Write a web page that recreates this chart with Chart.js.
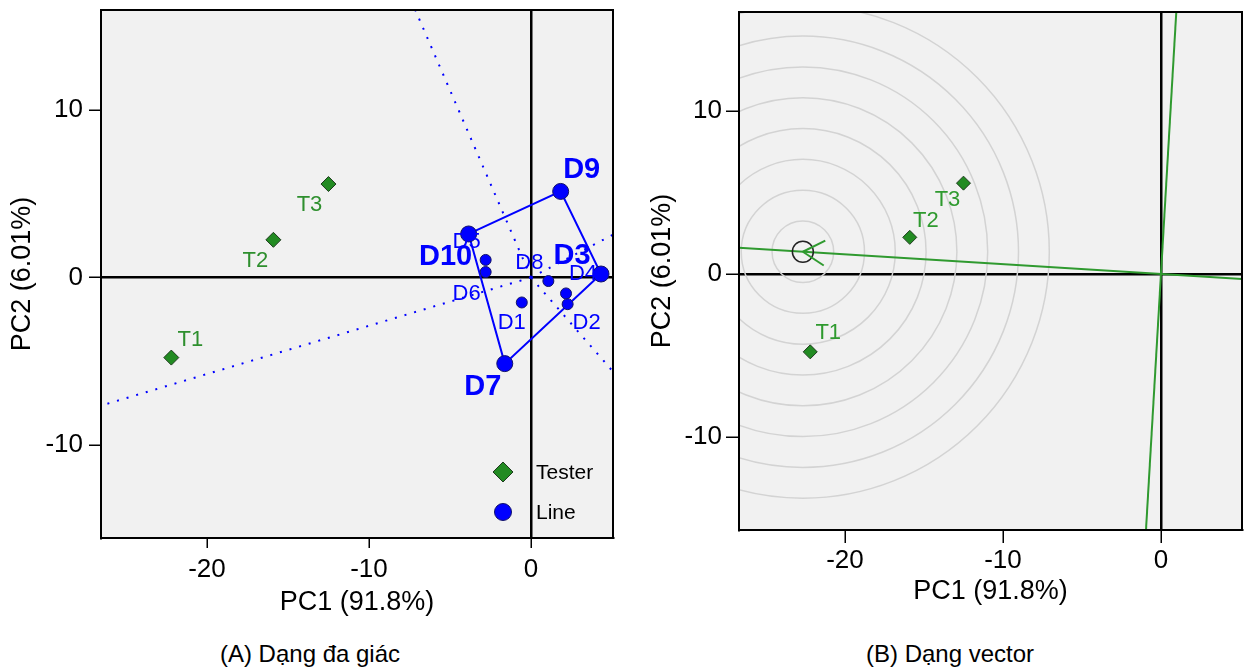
<!DOCTYPE html>
<html>
<head>
<meta charset="utf-8">
<script src="https://cdn.jsdelivr.net/npm/chart.js@4.4.0/dist/chart.umd.min.js"></script>
<style>
body { margin: 0; background: #fff; width: 1247px; height: 670px; overflow: hidden; font-family: "Liberation Sans", Arial, sans-serif; position: relative; }
#cA { position: absolute; left: 0; top: 0; }
#cB { position: absolute; left: 625px; top: 0; }
.cap { position: absolute; top: 640px; width: 400px; text-align: center; font-size: 24px; color: #000; }
</style>
</head>
<body>
<canvas id="cA" width="625" height="625"></canvas>
<canvas id="cB" width="629" height="625"></canvas>
<div class="cap" style="left:110px">(A) Dạng đa giác</div>
<div class="cap" style="left:750px">(B) Dạng vector</div>
<script>
// testers (environments) and lines
var testerNames = ['T1', 'T2', 'T3'];
var testerPC1 = [-22.2, -15.9, -12.5];
var testerPC2 = [-4.78, 2.25, 5.58];

var lineNames = ['D1', 'D2', 'D3', 'D4', 'D5', 'D6', 'D7', 'D8', 'D9', 'D10'];
var linePC1 = [-0.57, 2.26, 4.32, 2.16, -2.8, -2.8, -1.62, 1.07, 1.83, -3.85];
var linePC2 = [-1.49, -1.59, 0.21, -0.95, 1.05, 0.33, -5.14, -0.21, 5.14, 2.6];

// vertices of the polygon (which-won-where)
var hullOrder = ['D10', 'D9', 'D3', 'D7'];

var xTicks = [-20, -10, 0];
var yTicks = [-10, 0, 10];

// concentric rings around the ideal tester (PC units)
var ringRadii = [1.95, 3.9, 5.85, 7.8, 9.75, 11.7, 13.65, 15.6];

var blue = '#0000ff';
var green = '#228b22';
var greenTxt = '#2e8f2e';
var greenLine = '#2f9a2f';
var FONT = '"Liberation Sans", Arial, sans-serif';

Chart.defaults.font.family = FONT;
Chart.defaults.color = '#000';

// label offsets in px (centre of text relative to the point)
var lblA = {
  T1: [19, -18], T2: [-18, 21], T3: [-19, 21],
  D1: [-10, 20], D2: [19, 19], D3: [-29, -18], D4: [17, -19], D5: [-19, -18],
  D6: [-19, 22], D7: [-22, 23], D8: [-19, -18], D9: [21, -21], D10: [-23, 23]
};
var lblB = { T1: [18, -19], T2: [16, -16], T3: [-16, 17] };

function axis(min, max, ticksArr, title, titlePad, fitSize, isX, tickLen, tickPad) {
  return {
    type: 'linear', min: min, max: max,
    afterBuildTicks: function (s) { s.ticks = ticksArr.map(function (v) { return { value: v }; }); },
    afterFit: function (s) {
      if (isX) { s.height = fitSize; s.paddingLeft = 0; s.paddingRight = 0; }
      else { s.width = fitSize; s.paddingTop = 0; s.paddingBottom = 0; }
    },
    grid: {
      color: function (c) { return c.tick && c.tick.value === 0 ? '#000' : 'rgba(0,0,0,0)'; },
      lineWidth: 2.5, tickColor: '#000', tickWidth: 1.5, tickLength: tickLen
    },
    border: { display: true, color: '#000', width: 2 },
    ticks: { font: { size: 26 }, color: '#000', padding: tickPad },
    title: { display: true, text: title, font: { size: 27 }, color: '#000', padding: { top: titlePad, bottom: titlePad } }
  };
}

var framePlugin = {
  id: 'frame',
  beforeDraw: function (chart) {
    var a = chart.chartArea, ctx = chart.ctx;
    ctx.save();
    ctx.fillStyle = '#f1f1f1';
    ctx.fillRect(a.left, a.top, a.right - a.left, a.bottom - a.top);
    ctx.restore();
  },
  afterDraw: function (chart) {
    var a = chart.chartArea, ctx = chart.ctx;
    ctx.save();
    ctx.strokeStyle = '#000';
    ctx.lineWidth = 2;
    ctx.strokeRect(a.left, a.top, a.right - a.left, a.bottom - a.top);
    ctx.restore();
  }
};

function labelPlugin(items) {
  return {
    id: 'ptLabels',
    afterDatasetsDraw: function (chart) {
      var ctx = chart.ctx, xs = chart.scales.x, ys = chart.scales.y;
      items.forEach(function (it) {
        ctx.save();
        ctx.font = it.font;
        ctx.fillStyle = it.color;
        ctx.textAlign = 'center';
        ctx.textBaseline = 'middle';
        ctx.fillText(it.text, xs.getPixelForValue(it.x) + it.dx, ys.getPixelForValue(it.y) + it.dy);
        ctx.restore();
      });
    }
  };
}

function pts(xs, ys) { return xs.map(function (v, i) { return { x: v, y: ys[i] }; }); }

// ---------- (A) polygon view ----------
var linePts = pts(linePC1, linePC2);
var testerPts = pts(testerPC1, testerPC2);
var hullPts = hullOrder.map(function (n) { return linePts[lineNames.indexOf(n)]; });
var hullLoop = hullPts.concat([hullPts[0]]);

// rays from origin perpendicular to each polygon side
var rayData = [];
for (var i = 0; i < hullPts.length; i++) {
  var A = hullPts[i], B = hullPts[(i + 1) % hullPts.length];
  var dx = B.x - A.x, dy = B.y - A.y;
  var t = -(A.x * dx + A.y * dy) / (dx * dx + dy * dy);
  var fx = A.x + t * dx, fy = A.y + t * dy;
  var len = Math.sqrt(fx * fx + fy * fy);
  rayData.push([{ x: 0, y: 0 }, { x: fx / len * 60, y: fy / len * 60 }]);
}

var itemsA = [];
testerNames.forEach(function (n, i) {
  itemsA.push({ text: n, x: testerPC1[i], y: testerPC2[i], dx: lblA[n][0], dy: lblA[n][1], font: '22px ' + FONT, color: greenTxt });
});
lineNames.forEach(function (n, i) {
  var big = hullOrder.indexOf(n) >= 0;
  itemsA.push({ text: n, x: linePC1[i], y: linePC2[i], dx: lblA[n][0], dy: lblA[n][1],
    font: (big ? 'bold 29px ' : '22px ') + FONT, color: blue });
});

var legendA = {
  id: 'legA',
  afterDraw: function (chart) {
    var a = chart.chartArea, ctx = chart.ctx;
    var mx = a.right - 110, y1 = a.bottom - 66, y2 = a.bottom - 26;
    ctx.save();
    ctx.fillStyle = green; ctx.strokeStyle = '#1e3b1e'; ctx.lineWidth = 1;
    ctx.beginPath();
    ctx.moveTo(mx, y1 - 10); ctx.lineTo(mx + 10, y1); ctx.lineTo(mx, y1 + 10); ctx.lineTo(mx - 10, y1); ctx.closePath();
    ctx.fill(); ctx.stroke();
    ctx.fillStyle = blue; ctx.strokeStyle = '#12126a';
    ctx.beginPath(); ctx.arc(mx, y2, 8.5, 0, Math.PI * 2); ctx.fill(); ctx.stroke();
    ctx.fillStyle = '#000'; ctx.font = '21px ' + FONT; ctx.textAlign = 'left'; ctx.textBaseline = 'middle';
    ctx.fillText('Tester', a.right - 77, y1 + 1);
    ctx.fillText('Line', a.right - 77, y2 + 1);
    ctx.restore();
  }
};

var dsA = [
  { type: 'scatter', label: 'Tester', data: testerPts, pointStyle: 'rectRot', pointRadius: 7.5,
    backgroundColor: green, borderColor: '#1e3b1e', borderWidth: 1 },
  { type: 'scatter', label: 'Line', data: linePts,
    pointRadius: lineNames.map(function (n) { return hullOrder.indexOf(n) >= 0 ? 8 : 5.5; }),
    backgroundColor: blue, borderColor: '#12126a', borderWidth: 1 },
  { type: 'line', label: 'hull', data: hullLoop, borderColor: blue, borderWidth: 2, pointRadius: 0, fill: false }
];
rayData.forEach(function (r) {
  dsA.push({ type: 'line', label: 'ray', data: r, borderColor: blue, borderWidth: 2, borderDash: [2, 8],
    pointRadius: 0, fill: false });
});

new Chart(document.getElementById('cA'), {
  type: 'scatter',
  data: { datasets: dsA },
  options: {
    responsive: false, animation: false, events: [],
    layout: { padding: { top: 10, right: 12, left: 0, bottom: 0 } },
    plugins: { legend: { display: false }, tooltip: { enabled: false } },
    scales: {
      x: axis(-26.54, 5.06, xTicks, 'PC1 (91.8%)', 6, 87, true, 10, 6),
      y: axis(-15.55, 15.97, yTicks, 'PC2 (6.01%)', 6, 101, false, 12, 6)
    }
  },
  plugins: [framePlugin, labelPlugin(itemsA), legendA]
});

// ---------- (B) vector view ----------
var mx = 0, my = 0, maxLen = 0;
testerPC1.forEach(function (v, i) {
  mx += v / testerPC1.length; my += testerPC2[i] / testerPC1.length;
  maxLen = Math.max(maxLen, Math.sqrt(v * v + testerPC2[i] * testerPC2[i]));
});
var ml = Math.sqrt(mx * mx + my * my);
var ux = mx / ml, uy = my / ml;
var ideal = { x: ux * maxLen, y: uy * maxLen };

var ringPlugin = {
  id: 'rings',
  beforeDatasetsDraw: function (chart) {
    var a = chart.chartArea, ctx = chart.ctx, xs = chart.scales.x, ys = chart.scales.y;
    var cx = xs.getPixelForValue(ideal.x), cy = ys.getPixelForValue(ideal.y);
    var k = Math.abs(xs.getPixelForValue(1) - xs.getPixelForValue(0));
    ctx.save();
    ctx.beginPath(); ctx.rect(a.left, a.top, a.right - a.left, a.bottom - a.top); ctx.clip();
    ctx.strokeStyle = '#d3d3d3'; ctx.lineWidth = 1.5;
    ringRadii.forEach(function (r) {
      ctx.beginPath(); ctx.arc(cx, cy, r * k, 0, Math.PI * 2); ctx.stroke();
    });
    ctx.restore();
  },
  afterDatasetsDraw: function (chart) {
    var ctx = chart.ctx, xs = chart.scales.x, ys = chart.scales.y;
    var cx = xs.getPixelForValue(ideal.x), cy = ys.getPixelForValue(ideal.y);
    var ang = Math.atan2(ys.getPixelForValue(0) - cy, xs.getPixelForValue(0) - cx);
    ctx.save();
    ctx.strokeStyle = greenLine; ctx.lineWidth = 2;
    [-0.52, 0.52].forEach(function (d) {
      ctx.beginPath(); ctx.moveTo(cx, cy);
      ctx.lineTo(cx + 25 * Math.cos(ang + d), cy + 25 * Math.sin(ang + d)); ctx.stroke();
    });
    ctx.restore();
  }
};

var itemsB = testerNames.map(function (n, i) {
  return { text: n, x: testerPC1[i], y: testerPC2[i], dx: lblB[n][0], dy: lblB[n][1], font: '22px ' + FONT, color: greenLine };
});

new Chart(document.getElementById('cB'), {
  type: 'scatter',
  data: {
    datasets: [
      { type: 'scatter', label: 'Tester', data: testerPts, pointStyle: 'rectRot', pointRadius: 7,
        backgroundColor: green, borderColor: '#1e3b1e', borderWidth: 1 },
      { type: 'scatter', label: 'ideal', data: [ideal], pointRadius: 10.5,
        backgroundColor: 'rgba(0,0,0,0)', borderColor: '#222', borderWidth: 1.5 },
      { type: 'line', label: 'ATC', data: [{ x: ux * 60, y: uy * 60 }, { x: -ux * 60, y: -uy * 60 }],
        borderColor: greenLine, borderWidth: 2, pointRadius: 0, fill: false },
      { type: 'line', label: 'ATC perp', data: [{ x: -uy * 60, y: ux * 60 }, { x: uy * 60, y: -ux * 60 }],
        borderColor: greenLine, borderWidth: 2, pointRadius: 0, fill: false }
    ]
  },
  options: {
    responsive: false, animation: false, events: [],
    layout: { padding: { top: 10, right: 5, left: 0, bottom: 0 } },
    plugins: { legend: { display: false }, tooltip: { enabled: false } },
    scales: {
      x: axis(-26.71, 5.13, xTicks, 'PC1 (91.8%)', 17, 95, true, 13, 2),
      y: axis(-15.72, 16.09, yTicks, 'PC2 (6.01%)', 21, 114, false, 13, 4)
    }
  },
  plugins: [framePlugin, ringPlugin, labelPlugin(itemsB)]
});
</script>
</body>
</html>
